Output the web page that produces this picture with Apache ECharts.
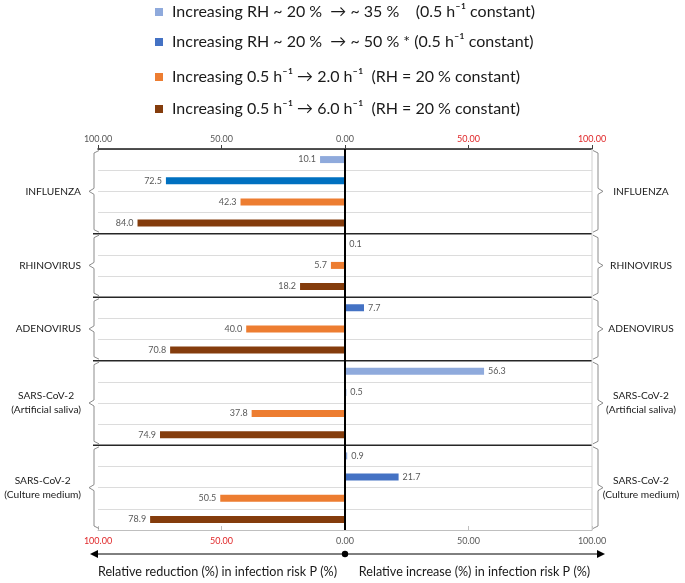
<!DOCTYPE html>
<html>
<head>
<meta charset="utf-8">
<script src="https://cdn.jsdelivr.net/npm/echarts@6/dist/echarts.min.js"></script>
<style>html,body{margin:0;padding:0;background:#fff}#c{width:685px;height:583px}</style>
</head>
<body>
<div id="c"></div>
<script>
// ---------- data ----------
const groupNames = ['INFLUENZA', 'RHINOVIRUS', 'ADENOVIRUS', 'SARS-CoV-2\n(Artificial saliva)', 'SARS-CoV-2\n(Culture medium)'];
const groupSizes = [4, 3, 3, 4, 4];
const seriesNames = [
  'Increasing RH ~ 20 %  \u2192 ~ 35 %    (0.5 h\u207B\u00B9 constant)',
  'Increasing RH ~ 20 %  \u2192 ~ 50 % * (0.5 h\u207B\u00B9 constant)',
  'Increasing 0.5 h\u207B\u00B9 \u2192 2.0 h\u207B\u00B9  (RH = 20 % constant)',
  'Increasing 0.5 h\u207B\u00B9 \u2192 6.0 h\u207B\u00B9  (RH = 20 % constant)'
];
const seriesColors = ['#8FAADC', '#4472C4', '#ED7D31', '#843C0C'];
// which series each row belongs to (rows top to bottom)
const rowSeries = [0, 1, 2, 3, 0, 2, 3, 1, 2, 3, 0, 1, 2, 3, 0, 1, 2, 3];
// signed change in infection risk (%): negative = reduction, positive = increase
const rowValues = [-10.1, -72.5, -42.3, -84.0, 0.1, -5.7, -18.2, 7.7, -40.0, -70.8, 56.3, 0.5, -37.8, -74.9, 0.9, 21.7, -50.5, -78.9];
const rowColorOverride = { 1: '#0070C0' };
const axisMin = -100, axisMax = 100, axisStep = 50;
const bottomLeftText = 'Relative reduction (%) in infection risk P (%)';
const bottomRightText = 'Relative increase (%) in infection risk P (%)';

// ---------- build ----------
const FONT = 'Lato, "Open Sans", sans-serif';
const rowIds = rowValues.map((_, i) => String(i));
const groupData = [];
let acc = 0;
groupSizes.forEach((n, gi) => { groupData.push([0, acc, acc + n - 1, gi]); acc += n; });

const measureCtx = document.createElement('canvas').getContext('2d');
function textWidth(t, size) {
  measureCtx.font = size + 'px ' + FONT;
  return Math.max.apply(null, t.split('\n').map(l => measureCtx.measureText(l).width));
}

const barSeries = seriesNames.map((name, si) => ({
  name: name,
  type: 'bar',
  barWidth: 7,
  barGap: '-100%',
  itemStyle: { color: seriesColors[si] },
  label: {
    show: true,
    fontSize: 9,
    fontFamily: FONT,
    color: '#595959',
    distance: 4,
    formatter: p => Math.abs(p.value).toFixed(1)
  },
  data: rowValues.map((v, r) => {
    if (rowSeries[r] !== si) return '-';
    const item = { value: v, label: { position: v < 0 ? 'left' : 'right' } };
    if (rowColorOverride[r]) item.itemStyle = { color: rowColorOverride[r] };
    return item;
  })
}));

const LABEL_SIZE = 10.2;
const groupSeries = {
  type: 'custom',
  clip: false,
  silent: true,
  z: 5,
  encode: { x: 0, y: 1 },
  data: groupData,
  renderItem: function (params, api) {
    const gi = api.value(3);
    const s = api.value(1), e = api.value(2);
    const band = api.size([0, 1])[1];
    const top = api.coord([0, s])[1] - band / 2;
    const bot = api.coord([0, e])[1] + band / 2;
    const mid = (top + bot) / 2;
    const xl = api.coord([axisMin, s])[0];
    const xr = api.coord([axisMax, s])[0];
    const ch = [];
    const bl = xl - 4;
    ch.push({ type: 'polyline', shape: { points: [[bl + 5, top + 1.5], [bl, top + 4], [bl, mid - 3], [bl - 5, mid], [bl, mid + 3], [bl, bot - 4], [bl + 5, bot - 1.5]] }, style: { fill: null, stroke: '#8c8c8c', lineWidth: 1 } });
    const br = xr + 6;
    ch.push({ type: 'polyline', shape: { points: [[br - 5, top + 1.5], [br, top + 4], [br, mid - 3], [br + 5, mid], [br, mid + 3], [br, bot - 4], [br - 5, bot - 1.5]] }, style: { fill: null, stroke: '#8c8c8c', lineWidth: 1 } });
    const name = groupNames[gi];
    const w = textWidth(name, LABEL_SIZE);
    ch.push({ type: 'text', style: { text: name, x: xl - 17 - w / 2, y: mid, align: 'center', verticalAlign: 'middle', fontSize: LABEL_SIZE, fontFamily: FONT, lineHeight: 14, fill: '#1a1a1a' } });
    ch.push({ type: 'text', style: { text: name, x: xr + 49, y: mid, align: 'center', verticalAlign: 'middle', fontSize: LABEL_SIZE, fontFamily: FONT, lineHeight: 14, fill: '#1a1a1a' } });
    if (gi < groupNames.length - 1) {
      ch.push({ type: 'line', shape: { x1: xl - 5, y1: bot, x2: xr, y2: bot }, style: { stroke: '#262626', lineWidth: 1.5 } });
    }
    return { type: 'group', children: ch };
  }
};

const frameSeries = {
  type: 'custom',
  clip: false,
  silent: true,
  z: 6,
  encode: { x: 0, y: 1 },
  data: [[0, 0]],
  renderItem: function (params, api) {
    const band = api.size([0, 1])[1];
    const last = rowIds.length - 1;
    const top = api.coord([0, 0])[1] - band / 2;
    const bot = api.coord([0, last])[1] + band / 2;
    const x0 = api.coord([0, 0])[0];
    const xl = api.coord([axisMin, 0])[0];
    const xr = api.coord([axisMax, 0])[0];
    const ay = bot + 24;
    const ch = [
      { type: 'line', shape: { x1: xr, y1: top, x2: xr, y2: bot }, style: { stroke: '#d0d0d0', lineWidth: 1 } },
      { type: 'line', shape: { x1: x0, y1: top, x2: x0, y2: bot }, style: { stroke: '#000', lineWidth: 2 } },
      { type: 'line', shape: { x1: xl - 4, y1: ay, x2: xr + 6, y2: ay }, style: { stroke: '#000', lineWidth: 1 } },
      { type: 'polygon', shape: { points: [[xl - 8, ay], [xl, ay - 4], [xl, ay + 4]] }, style: { fill: '#000' } },
      { type: 'polygon', shape: { points: [[xr + 13, ay], [xr + 5, ay - 4], [xr + 5, ay + 4]] }, style: { fill: '#000' } },
      { type: 'circle', shape: { cx: x0, cy: ay, r: 3.2 }, style: { fill: '#000' } },
      { type: 'text', style: { text: bottomLeftText, x: (xl + x0) / 2 - 4, y: ay + 18, align: 'center', verticalAlign: 'middle', fontSize: 12.6, fontFamily: FONT, fill: '#1a1a1a' } },
      { type: 'text', style: { text: bottomRightText, x: (x0 + xr) / 2 + 6, y: ay + 18, align: 'center', verticalAlign: 'middle', fontSize: 12.6, fontFamily: FONT, fill: '#1a1a1a' } }
    ];
    return { type: 'group', children: ch };
  }
};

const legendTops = [4, 34, 69, 101];
const option = {
  animation: false,
  backgroundColor: '#fff',
  legend: seriesNames.map((n, i) => ({
    data: [n],
    left: 155,
    top: legendTops[i],
    padding: 0,
    icon: 'rect',
    itemWidth: 8,
    itemHeight: 8,
    selectedMode: false,
    textStyle: { fontSize: 16, fontFamily: FONT, color: '#1a1a1a', padding: [0, 0, 0, 4] }
  })),
  grid: { left: 98, right: 93, top: 149, bottom: 53 },
  xAxis: [
    {
      type: 'value', position: 'top', min: axisMin, max: axisMax, interval: axisStep,
      axisLine: { show: true, lineStyle: { color: '#1a1a1a', width: 1.5 } },
      axisTick: { show: true, length: 4, lineStyle: { color: '#404040' } },
      splitLine: { show: false },
      axisLabel: {
        margin: 5, fontSize: 9, fontFamily: FONT, showMinLabel: true, showMaxLabel: true,
        formatter: v => Math.abs(v).toFixed(2),
        color: v => (v > 0 ? '#e0282a' : '#595959')
      }
    },
    {
      type: 'value', position: 'bottom', min: axisMin, max: axisMax, interval: axisStep,
      axisLine: { show: true, lineStyle: { color: '#bfbfbf', width: 1 } },
      axisTick: { show: true, inside: true, length: 4, lineStyle: { color: '#bfbfbf' } },
      splitLine: { show: false },
      axisLabel: {
        margin: 7, fontSize: 9, fontFamily: FONT, showMinLabel: true, showMaxLabel: true,
        formatter: v => Math.abs(v).toFixed(2),
        color: v => (v < 0 ? '#e0282a' : '#595959')
      }
    }
  ],
  yAxis: {
    type: 'category', data: rowIds, inverse: true,
    axisLabel: { show: false }, axisTick: { show: false },
    axisLine: { show: true, lineStyle: { color: '#d0d0d0' } },
    splitLine: { show: true, lineStyle: { color: '#dcdcdc', width: 1 } }
  },
  series: barSeries.concat([groupSeries, frameSeries])
};

const chart = echarts.init(document.getElementById('c'), null, { renderer: 'canvas' });
chart.setOption(option);
</script>
</body>
</html>
